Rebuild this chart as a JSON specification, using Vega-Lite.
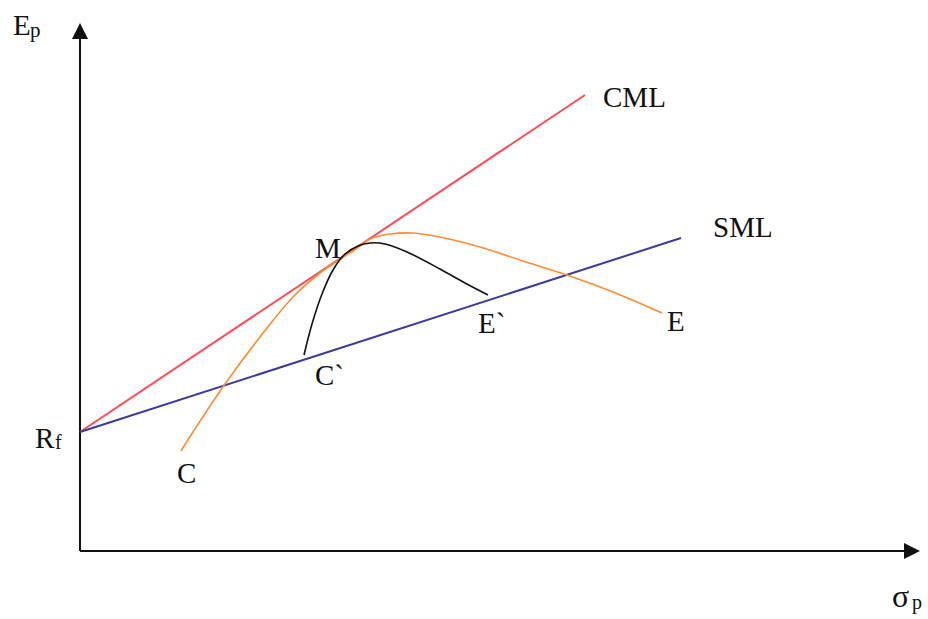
{
  "$schema": "https://vega.github.io/schema/vega-lite/v6.json",
  "width": 928,
  "height": 619,
  "autosize": {"type": "fit", "contains": "padding"},
  "padding": 0,
  "background": "white",
  "config": {"view": {"stroke": null}},
  "datasets": {
    "axes": [
      {"axis": "E", "x": 0, "y": 0, "x2": 0, "y2": 5.2},
      {"axis": "sigma", "x": 0, "y": 0, "x2": 8.32, "y2": 0}
    ],
    "lines": [
      {"name": "CML", "x": 0, "y": 1.19, "x2": 5.05, "y2": 4.56},
      {"name": "SML", "x": 0, "y": 1.19, "x2": 6.01, "y2": 3.13}
    ],
    "frontier": [
      {"x": 1.01, "y": 1.0},
      {"x": 1.13, "y": 1.19},
      {"x": 1.45, "y": 1.67},
      {"x": 1.8, "y": 2.14},
      {"x": 2.13, "y": 2.54},
      {"x": 2.4, "y": 2.78},
      {"x": 2.62, "y": 2.93},
      {"x": 2.76, "y": 3.02},
      {"x": 2.9, "y": 3.12},
      {"x": 3.1, "y": 3.17},
      {"x": 3.33, "y": 3.18},
      {"x": 3.6, "y": 3.14},
      {"x": 4.0, "y": 3.04},
      {"x": 4.43, "y": 2.9},
      {"x": 4.87, "y": 2.76},
      {"x": 5.33, "y": 2.59},
      {"x": 5.82, "y": 2.38}
    ],
    "inner": [
      {"x": 2.24, "y": 1.96},
      {"x": 2.32, "y": 2.27},
      {"x": 2.42, "y": 2.57},
      {"x": 2.53, "y": 2.81},
      {"x": 2.65, "y": 2.97},
      {"x": 2.78, "y": 3.05},
      {"x": 2.9, "y": 3.08},
      {"x": 3.05, "y": 3.07},
      {"x": 3.27, "y": 2.99},
      {"x": 3.6, "y": 2.82},
      {"x": 3.85, "y": 2.68},
      {"x": 4.08, "y": 2.56}
    ],
    "labels": [
      {"text": "E", "x": -0.67, "y": 5.16, "size": 29},
      {"text": "p", "x": -0.5, "y": 5.14, "size": 21},
      {"text": "R", "x": -0.45, "y": 1.03, "size": 29},
      {"text": "f", "x": -0.25, "y": 1.02, "size": 20},
      {"text": "C", "x": 0.97, "y": 0.68, "size": 29},
      {"text": "C`", "x": 2.35, "y": 1.66, "size": 29},
      {"text": "M", "x": 2.35, "y": 2.93, "size": 29},
      {"text": "E`", "x": 3.98, "y": 2.18, "size": 29},
      {"text": "E", "x": 5.87, "y": 2.2, "size": 29},
      {"text": "CML", "x": 5.23, "y": 4.44, "size": 29},
      {"text": "SML", "x": 6.33, "y": 3.14, "size": 29},
      {"text": "σ", "x": 8.12, "y": -0.56, "size": 32},
      {"text": "p", "x": 8.32, "y": -0.58, "size": 20}
    ]
  },
  "encoding": {
    "x": {"type": "quantitative", "scale": {"domain": [-0.8, 8.48], "nice": false, "zero": false}, "axis": null},
    "y": {"type": "quantitative", "scale": {"domain": [-0.68, 5.51], "nice": false, "zero": false}, "axis": null}
  },
  "layer": [
    {
      "data": {"name": "axes"},
      "mark": {"type": "rule", "color": "#111111", "strokeWidth": 2},
      "encoding": {
        "x": {"field": "x"},
        "y": {"field": "y"},
        "x2": {"field": "x2"},
        "y2": {"field": "y2"}
      }
    },
    {
      "data": {"name": "axes"},
      "transform": [{"filter": "datum.axis === 'E'"}],
      "mark": {"type": "point", "shape": "M0,-1L1,1L-1,1Z", "filled": true, "color": "#111111", "size": 256, "opacity": 1},
      "encoding": {"x": {"field": "x2"}, "y": {"field": "y2"}}
    },
    {
      "data": {"name": "axes"},
      "transform": [{"filter": "datum.axis === 'sigma'"}],
      "mark": {"type": "point", "shape": "M1,0L-1,-1L-1,1Z", "filled": true, "color": "#111111", "size": 256, "opacity": 1},
      "encoding": {"x": {"field": "x2"}, "y": {"field": "y2"}}
    },
    {
      "data": {"name": "lines"},
      "mark": {"type": "rule", "strokeWidth": 2},
      "encoding": {
        "x": {"field": "x"},
        "y": {"field": "y"},
        "x2": {"field": "x2"},
        "y2": {"field": "y2"},
        "color": {"field": "name", "type": "nominal", "scale": {"domain": ["CML", "SML"], "range": ["#ff4a57", "#3a3a9e"]}, "legend": null}
      }
    },
    {
      "data": {"name": "frontier"},
      "mark": {"type": "line", "color": "#ff8c33", "strokeWidth": 1.6, "interpolate": "catmull-rom"},
      "encoding": {"x": {"field": "x"}, "y": {"field": "y"}}
    },
    {
      "data": {"name": "inner"},
      "mark": {"type": "line", "color": "#111111", "strokeWidth": 1.6, "interpolate": "catmull-rom"},
      "encoding": {"x": {"field": "x"}, "y": {"field": "y"}}
    },
    {
      "data": {"name": "labels"},
      "mark": {"type": "text", "font": "Liberation Serif", "align": "left", "baseline": "alphabetic", "color": "#111111"},
      "encoding": {
        "x": {"field": "x"},
        "y": {"field": "y"},
        "text": {"field": "text"},
        "size": {"field": "size", "type": "quantitative", "scale": null}
      }
    }
  ]
}
